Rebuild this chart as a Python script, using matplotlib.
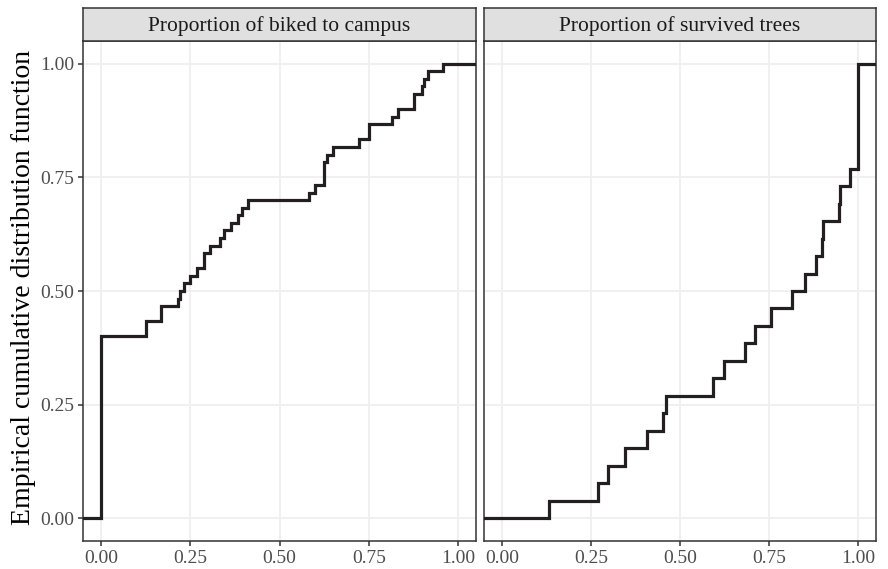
import numpy as np
import matplotlib
matplotlib.use("Agg")
import matplotlib.pyplot as plt

plt.rcParams['font.family'] = ['Liberation Serif', 'DejaVu Serif']

# ---- data ----
facet_titles = ["Proportion of biked to campus", "Proportion of survived trees"]

biked_values = [0.0, 0.125, 0.167, 0.217, 0.222, 0.233, 0.25, 0.27, 0.288, 0.305,
                0.333, 0.345, 0.364, 0.385, 0.394, 0.413, 0.583, 0.60, 0.625, 0.632,
                0.649, 0.723, 0.75, 0.815, 0.832, 0.876, 0.90, 0.905, 0.916, 0.957]
biked_counts = [24, 2, 2, 1, 1, 1, 1, 1, 2, 1,
                1, 1, 1, 1, 1, 1, 1, 1, 3, 1,
                1, 1, 2, 1, 1, 2, 1, 1, 1, 1]

trees_values = [0.131, 0.27, 0.297, 0.345, 0.406, 0.453, 0.461, 0.593, 0.624, 0.682,
                0.711, 0.756, 0.814, 0.852, 0.882, 0.898, 0.902, 0.947, 0.950, 0.978, 1.0]
trees_counts = [1, 1, 1, 1, 1, 1, 1, 1, 1, 1,
                1, 1, 1, 1, 1, 1, 1, 1, 1, 1, 6]

x_ticks = [0.0, 0.25, 0.5, 0.75, 1.0]
x_ticklabels = ["0.00", "0.25", "0.50", "0.75", "1.00"]
y_ticks = [0.0, 0.25, 0.5, 0.75, 1.0]
y_ticklabels = ["0.00", "0.25", "0.50", "0.75", "1.00"]
y_label = "Empirical cumulative distribution function"

series = [(biked_values, biked_counts), (trees_values, trees_counts)]

# ---- figure ----
W, H = 888, 569
fig = plt.figure(figsize=(W / 100, H / 100), dpi=100)

def px_rect(x0, y0, x1, y1):
    return [x0 / W, 1 - y1 / H, (x1 - x0) / W, (y1 - y0) / H]

panel_x = [(83, 476), (484, 876)]
panel_top, panel_bot = 41, 541
strip_top = 8

edge = "#333333"
line_col = "#231F20"
grid_col = "#EFEFEF"

for i, ((x0, x1), (vals, cnts)) in enumerate(zip(panel_x, series)):
    ax = fig.add_axes(px_rect(x0, panel_top, x1, panel_bot))
    data = np.repeat(np.array(vals, float), cnts)
    xs = np.sort(np.unique(data))
    ys = np.array([np.mean(data <= v) for v in xs])
    sx = np.concatenate([[-10], xs, [10]])
    sy = np.concatenate([[0.0], ys, [1.0]])
    ax.step(sx, sy, where='post', color=line_col, lw=2.3, solid_joinstyle='miter', zorder=3)
    ax.set_xlim(-0.05, 1.05)
    ax.set_ylim(-0.05, 1.05)
    ax.set_xticks(x_ticks)
    ax.set_xticklabels(x_ticklabels)
    ax.set_yticks(y_ticks)
    if i == 0:
        ax.set_yticklabels(y_ticklabels)
    else:
        ax.tick_params(axis='y', left=False, labelleft=False)
    ax.grid(True, color=grid_col, lw=1.3, zorder=0)
    ax.set_axisbelow(True)
    for s in ax.spines.values():
        s.set_color(edge)
        s.set_linewidth(1.1)
    ax.tick_params(axis='both', colors=edge, length=3.8, width=1.1,
                   labelsize=14, labelcolor="#4D4D4D", pad=2.5)
    # strip
    sax = fig.add_axes(px_rect(x0, strip_top, x1, panel_top))
    sax.set_facecolor("#E0E0E0")
    sax.set_xticks([]); sax.set_yticks([])
    for s in sax.spines.values():
        s.set_color(edge)
        s.set_linewidth(1.1)
    sax.text(0.5, 0.45, facet_titles[i], ha='center', va='center',
             fontsize=15.5, color="#1A1A1A", transform=sax.transAxes)

fig.text(24 / W, 1 - 287 / H, y_label, rotation=90,
         ha='center', va='center', fontsize=20, color="#000000")

fig.savefig("out.png", dpi=100)
